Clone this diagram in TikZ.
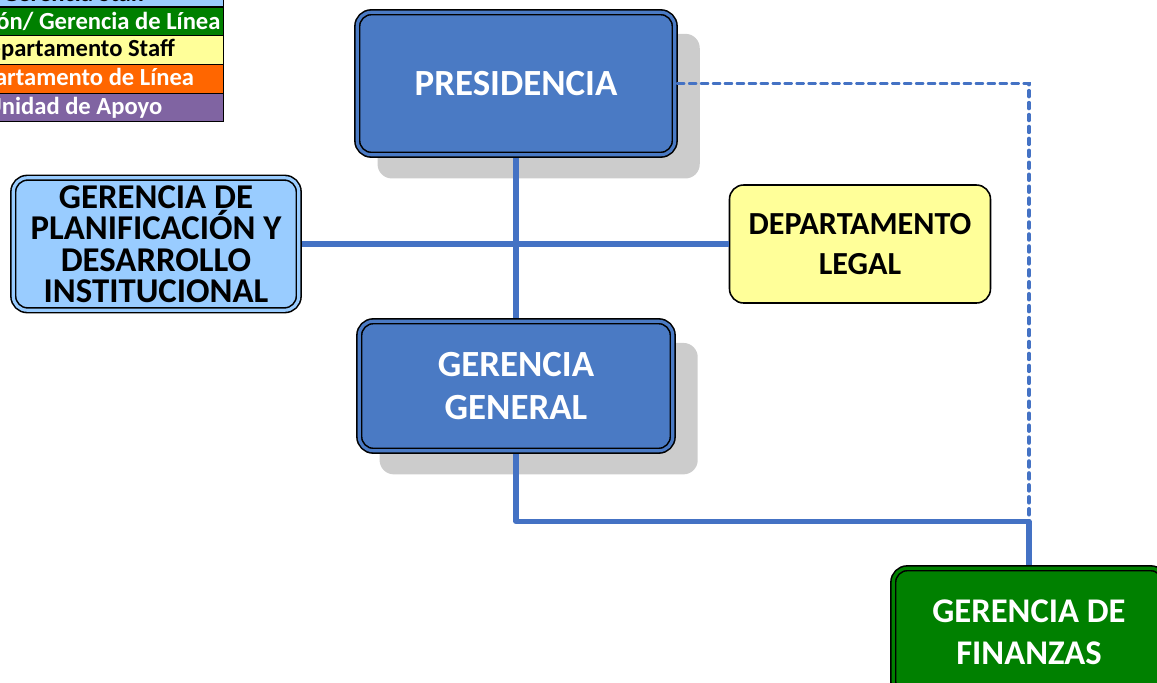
\documentclass[tikz,border=0pt]{standalone}
\usepackage{fontspec}
\setmainfont{Carlito}
\usetikzlibrary{positioning, shadows}
\definecolor{azul}{HTML}{4A7AC4}
\definecolor{linea}{HTML}{4472C4}
\definecolor{celeste}{HTML}{99CCFF}
\definecolor{amarillo}{HTML}{FFFF99}
\definecolor{verde}{HTML}{008000}
\definecolor{naranja}{HTML}{FF6600}
\definecolor{morado}{HTML}{8064A2}
\tikzstyle{leyenda} = [rectangle, minimum width=6cm, minimum height=0.574cm, inner sep=0pt, outer sep=0pt, draw=black, line width=0.6pt, font=\fontsize{14}{16}\selectfont\bfseries]
\tikzstyle{doble} = [rectangle, rounded corners=8pt, draw=black, line width=0.9pt, double distance=1.8pt, outer sep=1.8pt, align=center]
\tikzstyle{direccion} = [doble, double=azul, fill=azul, text=white, font=\fontsize{21}{25}\selectfont\bfseries, general shadow={fill=black!20, shadow xshift=12.7pt, shadow yshift=-12.7pt, shadow scale=1.015}]
\tikzstyle{staff} = [doble, double=celeste, fill=celeste, text=black, font=\fontsize{19.8}{17.9}\selectfont\bfseries]
\tikzstyle{depto} = [rectangle, rounded corners=8pt, draw=black, line width=0.9pt, fill=amarillo, text=black, align=center, font=\fontsize{18.3}{23.2}\selectfont\bfseries]
\tikzstyle{linea} = [draw=linea, line width=3pt, line join=round]
\tikzstyle{punteada} = [draw=linea, line width=2.2pt, dash pattern=on 3.2pt off 3.6pt, line cap=round]

\begin{document}
\begin{tikzpicture}[x=0.02cm, y=-0.02cm]
\useasboundingbox (0,0) rectangle (1157,683);
\clip (0,0) rectangle (1157,683);

% leyenda
\node (ley1) [leyenda, fill=celeste, text=black] at (74,-7.35) {Gerencia Staff};
\node (ley2) [leyenda, fill=verde, text=white, below=0pt of ley1] {Dirección/ Gerencia de Línea};
\node (ley3) [leyenda, fill=amarillo, text=black, below=0pt of ley2] {Departamento Staff};
\node (ley4) [leyenda, fill=naranja, text=white, below=0pt of ley3] {Departamento de Línea};
\node (ley5) [leyenda, fill=morado, text=white, below=0pt of ley4] {Unidad de Apoyo};

% organigrama
\node (pres) [direccion, minimum width=6.35cm, minimum height=2.85cm] at (516,83.5) {PRESIDENCIA};
\node (gg) [direccion, minimum width=6.27cm, minimum height=2.59cm] at (516,386) {GERENCIA\\GENERAL};
\node (plan) [staff, minimum width=5.71cm, minimum height=2.65cm] at (156,244) {GERENCIA DE\\PLANIFICACIÓN Y\\DESARROLLO\\INSTITUCIONAL};
\node (legal) [depto, minimum width=5.22cm, minimum height=2.36cm] at (860,244) {DEPARTAMENTO\\LEGAL};
\node (fin) [doble, double=verde, fill=verde, text=white, font=\fontsize{19.7}{23.8}\selectfont\bfseries, minimum width=5.43cm, minimum height=2.55cm] at (1029,632) {GERENCIA DE\\FINANZAS};

\coordinate (codo) at (1029,521.5);

\draw [linea] (pres.south) -- (gg.north);
\draw [linea] (plan.east) -- (legal.west);
\draw [linea] (gg.south) |- (codo) -- (fin.north);
\draw [punteada] (pres.east) -| (codo);
\end{tikzpicture}
\end{document}
